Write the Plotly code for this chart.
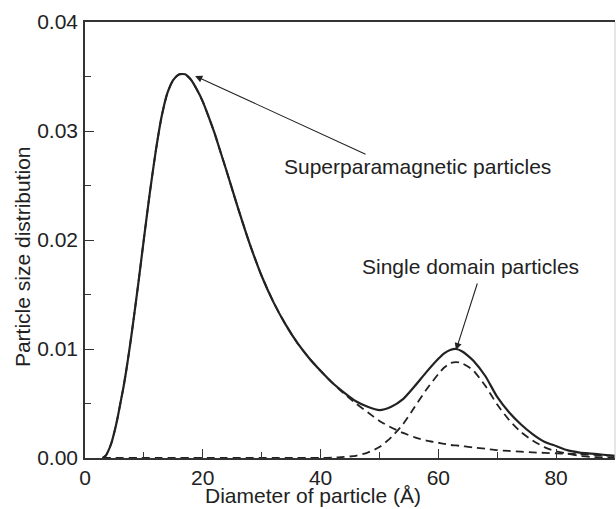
import plotly.graph_objects as go

# Diameter grid (Å)
diameter = [3, 3.5, 4, 4.5, 5, 5.5, 6, 6.5, 7, 7.5, 8, 9, 10, 11, 12, 13, 14, 15, 16, 17,
            18, 19, 20, 21, 22, 23, 24, 26, 28, 30, 32, 34, 36, 38, 40, 42, 44, 46, 48,
            50, 52, 54, 56, 58, 60, 61, 62, 63, 64, 65, 66, 68, 70, 72, 74, 76, 78, 80,
            82, 84, 86, 88, 90]

# Superparamagnetic component (dashed)
superpara = [0, 0.0002, 0.0007, 0.0014, 0.0024, 0.0036, 0.0050, 0.0064, 0.0080, 0.0098,
             0.0117, 0.0158, 0.0201, 0.0243, 0.0281, 0.0313, 0.0335, 0.0347, 0.0352, 0.0352,
             0.0347, 0.0338, 0.0327, 0.0313, 0.0298, 0.0281, 0.0264, 0.0229, 0.0196, 0.0167,
             0.0143, 0.0123, 0.0106, 0.0092, 0.0080, 0.0069, 0.0059, 0.0050, 0.0042,
             0.0034, 0.0028, 0.0023, 0.0019, 0.0016, 0.0014, 0.0013, 0.0012, 0.00115, 0.0011,
             0.00102, 0.00096, 0.00085, 0.00072, 0.00065, 0.00058, 0.00052, 0.00047, 0.00043,
             0.00039, 0.00034, 0.00029, 0.00024, 0.0002]

# Single domain component (dashed)
single_domain = [0, 0, 0, 0, 0, 0, 0, 0, 0, 0,
                 0, 0, 0, 0, 0, 0, 0, 0, 0, 0,
                 0, 0, 0, 0, 0, 0, 0, 0, 0, 0,
                 0, 0, 0, 0, 0, 0.00003, 0.0001, 0.0002, 0.0005,
                 0.0010, 0.0019, 0.0031, 0.0047, 0.0063, 0.0077, 0.0083, 0.0087, 0.0088, 0.0087,
                 0.0084, 0.0080, 0.0066, 0.0049, 0.0035, 0.0024, 0.0016, 0.0010, 0.0006,
                 0.0004, 0.0002, 0.0001, 0.00005, 0.00002]

# Total distribution (solid)
total = [0, 0.0002, 0.0007, 0.0014, 0.0024, 0.0036, 0.0050, 0.0064, 0.0080, 0.0098,
         0.0117, 0.0158, 0.0201, 0.0243, 0.0281, 0.0313, 0.0335, 0.0347, 0.0352, 0.0352,
         0.0347, 0.0338, 0.0327, 0.0313, 0.0298, 0.0281, 0.0264, 0.0229, 0.0196, 0.0167,
         0.0143, 0.0123, 0.0106, 0.0092, 0.0080, 0.0069, 0.0060, 0.0052, 0.0047,
         0.0044, 0.0047, 0.0054, 0.0066, 0.0079, 0.0091, 0.0096, 0.0099, 0.01, 0.0098,
         0.0094, 0.0089, 0.0075, 0.0056, 0.0042, 0.0031, 0.0022, 0.0015, 0.0011,
         0.0007, 0.0005, 0.0004, 0.0003, 0.0002]

x_ticks = [0, 20, 40, 60, 80]
x_minor = [10, 30, 50, 70, 90]
y_ticks = [0.00, 0.01, 0.02, 0.03, 0.04]
y_minor = [0.005, 0.015, 0.025, 0.035]

FONT = "Liberation Sans, Arial, Helvetica, sans-serif"
INK = "#222222"
AX = "#333333"

fig = go.Figure()
fig.add_trace(go.Scatter(x=diameter, y=superpara, mode="lines",
                         line=dict(color=INK, width=1.8, dash="8px,5px", shape="spline", smoothing=0.6),
                         showlegend=False))
fig.add_trace(go.Scatter(x=diameter, y=single_domain, mode="lines",
                         line=dict(color=INK, width=1.8, dash="8px,5px", shape="spline", smoothing=0.6),
                         showlegend=False))
fig.add_trace(go.Scatter(x=diameter, y=total, mode="lines",
                         line=dict(color=INK, width=2.2, shape="spline", smoothing=0.6),
                         showlegend=False))

fig.update_layout(
    width=616, height=509,
    margin=dict(l=85, r=1, t=22, b=51),
    paper_bgcolor="white", plot_bgcolor="white",
    font=dict(family=FONT, size=21, color=INK),
    xaxis=dict(range=[0, 90], tickvals=x_ticks, ticktext=[str(v) for v in x_ticks],
               ticks="inside", ticklen=9, tickwidth=1.3, tickcolor=AX,
               minor=dict(tickvals=x_minor, ticks="inside", ticklen=6, tickwidth=1.2, tickcolor=AX),
               showline=True, linecolor=AX, linewidth=1.5, mirror=True,
               showgrid=False, zeroline=False, ticklabelstandoff=0),
    yaxis=dict(range=[0, 0.04], tickvals=y_ticks, ticktext=[f"{v:.2f}" for v in y_ticks],
               ticks="inside", ticklen=9, tickwidth=1.3, tickcolor=AX,
               minor=dict(tickvals=y_minor, ticks="inside", ticklen=6, tickwidth=1.2, tickcolor=AX),
               showline=True, linecolor=AX, linewidth=1.5,
               showgrid=False, zeroline=False, ticklabelstandoff=1),
    shapes=[dict(type="line", xref="paper", yref="paper", x0=1, x1=1, y0=0, y1=1,
                 line=dict(color="#cccccc", width=1))],
)

annotations = [
    dict(text="Superparamagnetic particles", x=56.4, y=0.0267, xref="x", yref="y",
         showarrow=False, xanchor="center", yanchor="middle"),
    dict(text="", x=18.7, y=0.03505, ax=47.9, ay=0.0278, xref="x", yref="y",
         axref="x", ayref="y", showarrow=True, arrowhead=2, arrowsize=1.3,
         arrowwidth=1.1, arrowcolor=INK),
    dict(text="Single domain particles", x=65.5, y=0.0176, xref="x", yref="y",
         showarrow=False, xanchor="center", yanchor="middle"),
    dict(text="", x=63.0, y=0.0099, ax=66.7, ay=0.01615, xref="x", yref="y",
         axref="x", ayref="y", showarrow=True, arrowhead=2, arrowsize=1.3,
         arrowwidth=1.1, arrowcolor=INK),
    dict(text="Diameter of particle (Å)", x=0.431, y=-0.1145, xref="paper", yref="paper",
         showarrow=False, xanchor="center", yanchor="bottom", borderpad=0),
    dict(text="Particle size distribution", x=-0.119, y=0.463, xref="paper", yref="paper",
         showarrow=False, xanchor="center", yanchor="middle", textangle=-90),
]
fig.update_layout(annotations=annotations)

fig.write_html("out.html")
